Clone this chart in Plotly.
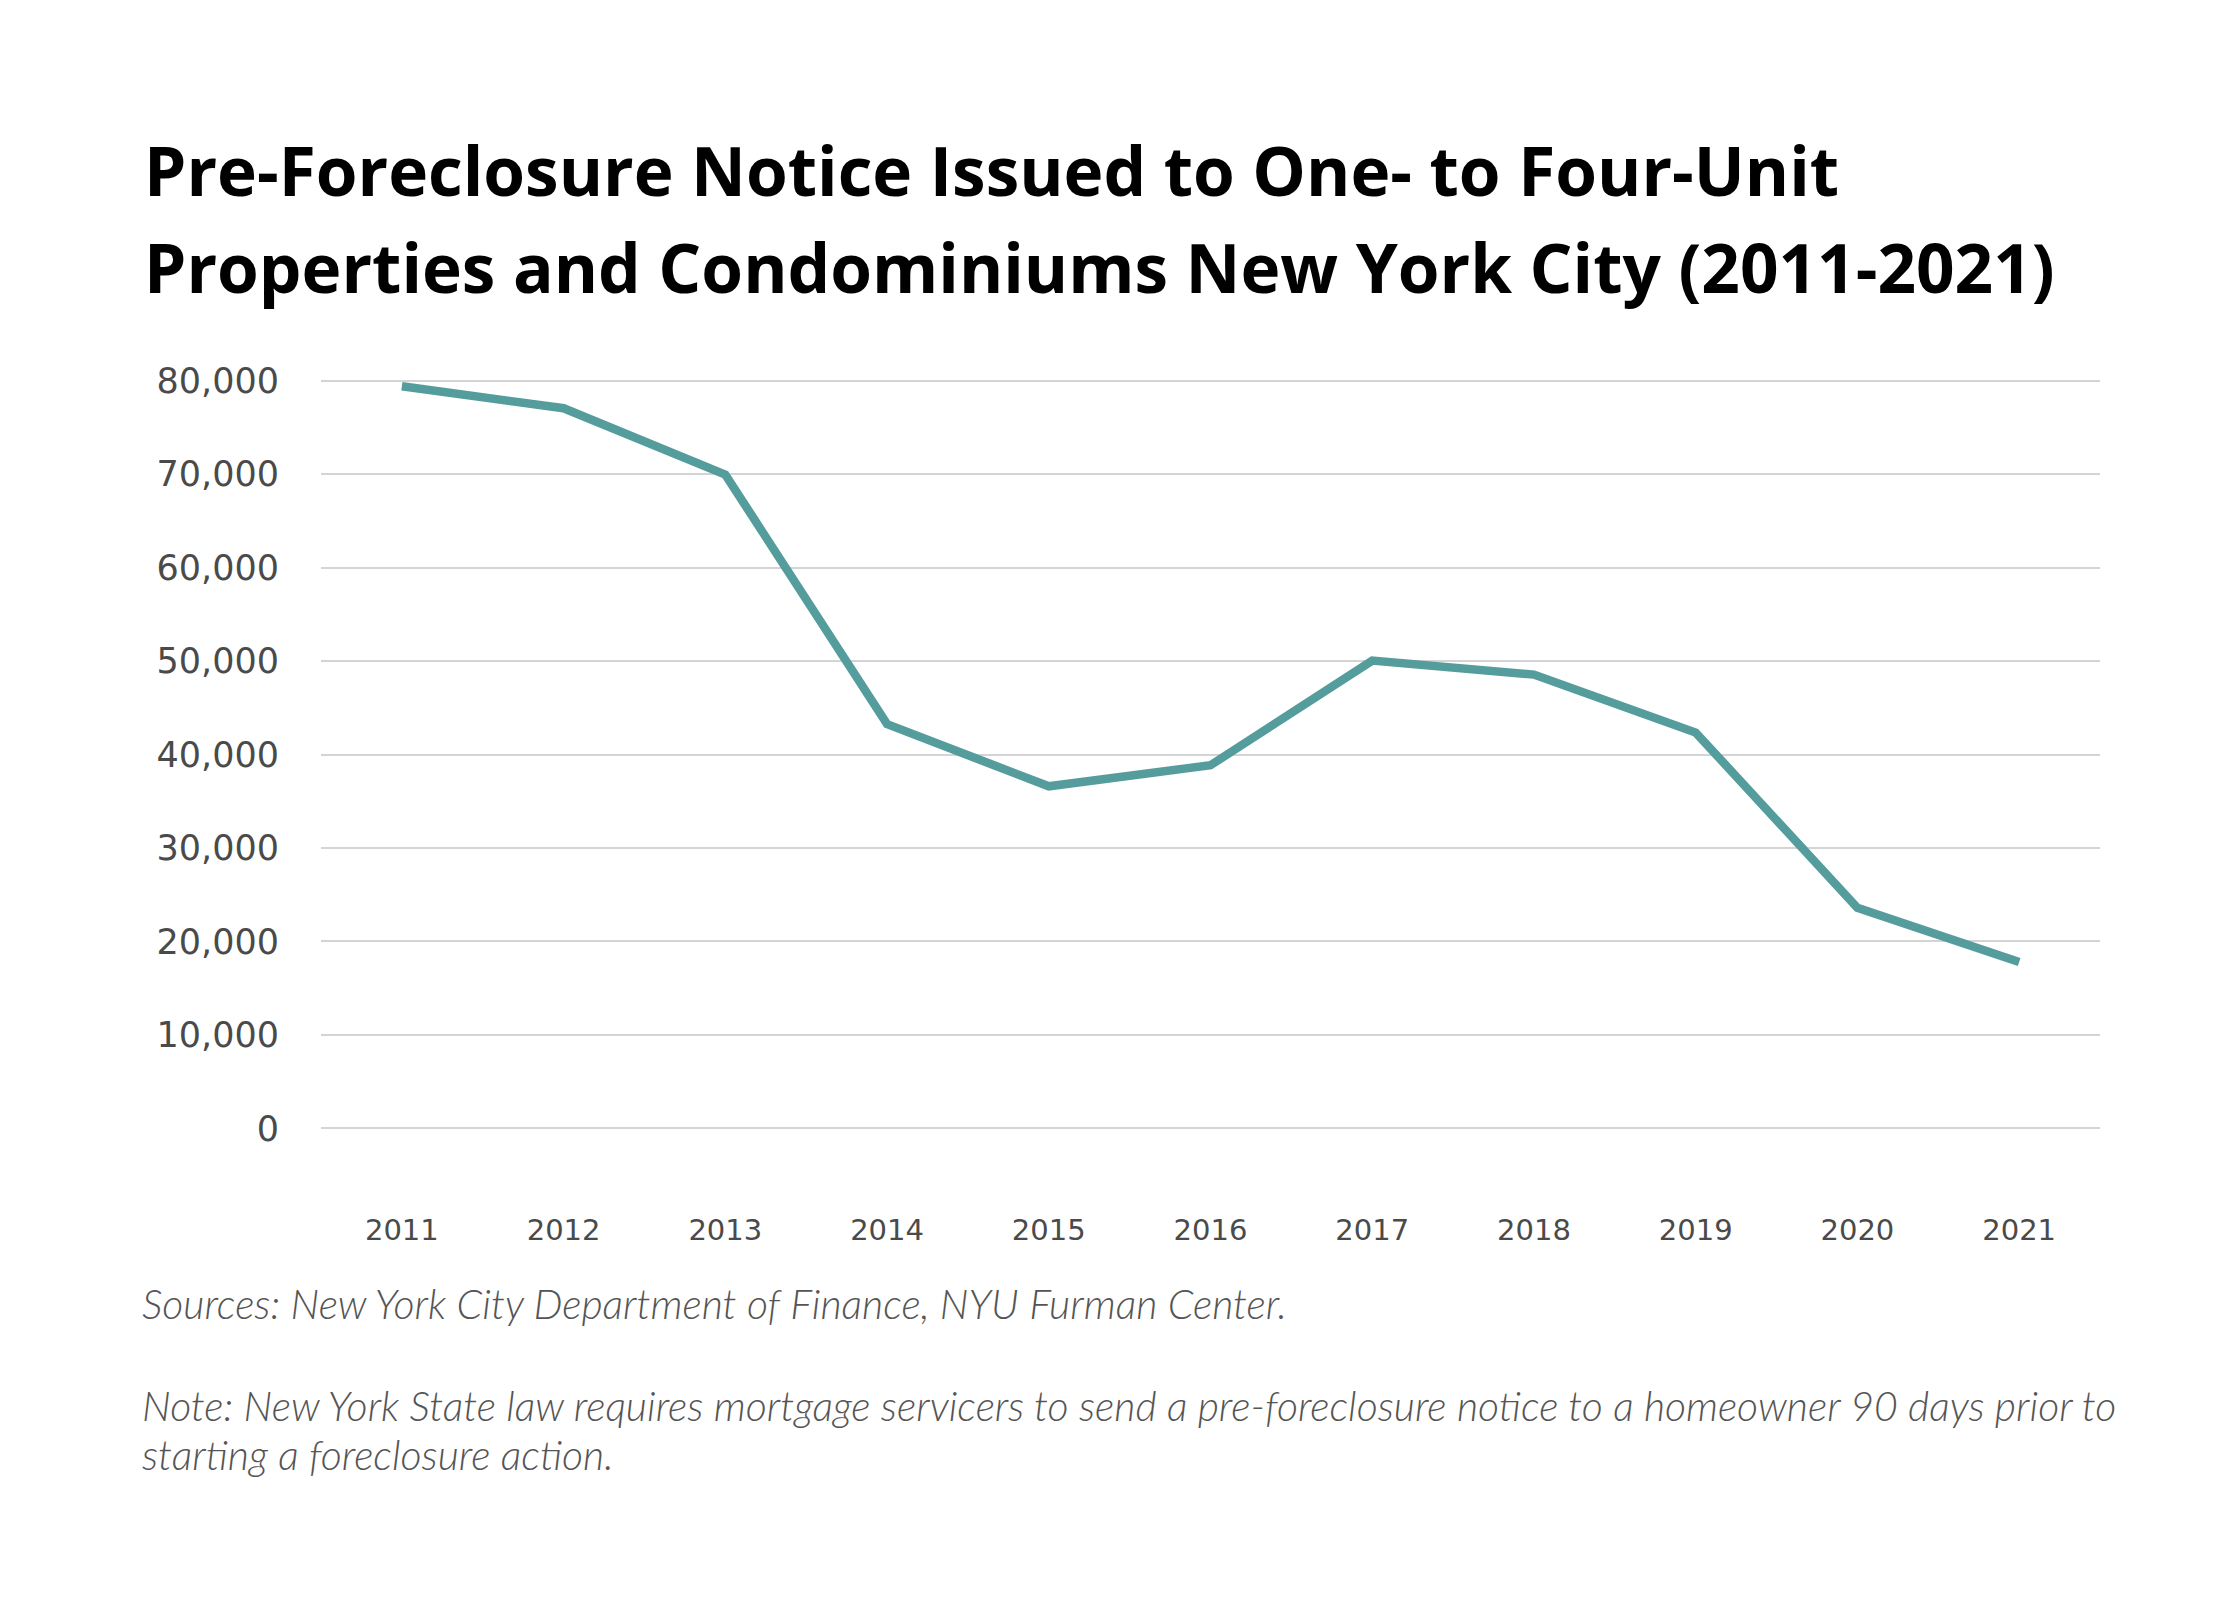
import plotly.graph_objects as go

# Pre-foreclosure notices, NYC one- to four-unit properties and condos
years = [2011, 2012, 2013, 2014, 2015, 2016, 2017, 2018, 2019, 2020, 2021]
notices = [79400, 77050, 69950, 43250, 36600, 38850, 50050, 48550, 42350, 23600, 17800]
y_ticks = [0, 10000, 20000, 30000, 40000, 50000, 60000, 70000, 80000]

title_lines = [
    "Pre-Foreclosure Notice Issued to One- to Four-Unit",
    "Properties and Condominiums New York City (2011-2021)",
]
source_text = "Sources: New York City Department of Finance, NYU Furman Center."
note_lines = [
    "Note: New York State law requires mortgage servicers to send a pre-foreclosure notice to a homeowner 90 days prior to",
    "starting a foreclosure action.",
]

W, H = 2240, 1600
# plot area in pixels (y range padded a little so the 0 and 80,000 grid lines show)
L, R, T, B = 313, 2092, 368, 1125


def px(x):
    return (x - L) / (R - L)


def py(y):
    return (B - y) / (B - T)


fig = go.Figure()
fig.add_trace(go.Scatter(
    x=years, y=notices, mode="lines",
    line=dict(color="#559d9d", width=8.5),
    hoverinfo="skip", showlegend=False,
))

annotations = []
for i, line in enumerate(title_lines):
    annotations.append(dict(
        text=line, xref="paper", yref="paper", x=px(134), y=py(162 + 97 * i),
        xanchor="left", yanchor="middle", showarrow=False,
        font=dict(family="Open Sans", size=67.5, color="#000000", weight="bold"),
    ))
annotations.append(dict(
    text=source_text, xref="paper", yref="paper", x=px(132), y=py(1295),
    xanchor="left", yanchor="middle", showarrow=False,
    font=dict(family="Lato", size=41, color="#555555", style="italic", weight=300),
))
for i, line in enumerate(note_lines):
    annotations.append(dict(
        text=line, xref="paper", yref="paper", x=px(132), y=py(1397 + 49 * i),
        xanchor="left", yanchor="middle", showarrow=False,
        font=dict(family="Lato", size=41, color="#555555", style="italic", weight=300),
    ))

fig.update_layout(
    width=W, height=H,
    margin=dict(l=L, r=W - R, t=T, b=H - B),
    paper_bgcolor="white", plot_bgcolor="white",
    annotations=annotations,
    xaxis=dict(
        range=[2010.5, 2021.5], tickvals=years, ticktext=[str(y) for y in years],
        showgrid=False, zeroline=False, showline=False, ticks="",
        ticklabelstandoff=77,
        tickfont=dict(family="DejaVu Sans", size=29, color="#4a4a4a"),
    ),
    yaxis=dict(
        range=[-500, 80500], tickvals=y_ticks,
        ticktext=[f"{v:,}" for v in y_ticks],
        showgrid=True, gridcolor="#d4d4d4", gridwidth=1.5,
        zeroline=False, showline=False, ticks="",
        ticklabelstandoff=41,
        tickfont=dict(family="DejaVu Sans", size=35, color="#4a4a4a"),
    ),
)

fig.write_html("out.html")
